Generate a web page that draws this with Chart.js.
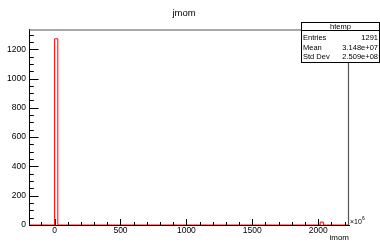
<!DOCTYPE html>
<html>
<head>
<meta charset="utf-8">
<script src="https://cdn.jsdelivr.net/npm/chart.js@4"></script>
<style>
html, body { margin: 0; padding: 0; background: #fff; }
canvas { display: block; }
</style>
</head>
<body>
<canvas id="grafico" width="380" height="242"></canvas>
<script>
// histograma htemp de ROOT: 100 bins, casi todo en dos bins
const tituloHist = 'jmom';
const tituloEjeX = 'imom';
const xMin = -194.3;
const xMax = 2234;
const nBins = 100;
const binsLlenos = [8, 91];
const cuentas = [1271, 20];
const ticksX = [0, 500, 1000, 1500, 2000];
const ticksY = [0, 200, 400, 600, 800, 1000, 1200];
const statsNombres = ['Entries', 'Mean', 'Std Dev'];
const statsValores = ['1291', '3.148e+07', '2.509e+08'];

const anchoBin = (xMax - xMin) / nBins;
const contenido = new Array(nBins).fill(0);
binsLlenos.forEach((b, i) => { contenido[b] = cuentas[i]; });
const puntos = contenido.map((c, i) => ({ x: xMin + i * anchoBin, y: c }));
puntos.push({ x: xMax, y: contenido[nBins - 1] });
const yMax = Math.max(...cuentas) * 1.05;

const fuente = '"Liberation Sans", Arial, sans-serif';

const decoracionRoot = {
    id: 'decoracionRoot',
    afterDatasetsDraw(chart) {
        const ctx = chart.ctx;
        const a = chart.chartArea;
        const sx = chart.scales.x, sy = chart.scales.y;
        ctx.save();
        // marco arriba y derecha
        ctx.strokeStyle = '#555';
        ctx.lineWidth = 1.2;
        ctx.beginPath();
        ctx.moveTo(a.left, a.top + 0.5);
        ctx.lineTo(a.right - 0.5, a.top + 0.5);
        ctx.lineTo(a.right - 0.5, a.bottom);
        ctx.stroke();

        // ticks hacia adentro
        ctx.strokeStyle = '#000';
        ctx.lineWidth = 1;
        ctx.beginPath();
        const pasoX = (ticksX[1] - ticksX[0]) / 5;
        for (let v = Math.ceil(xMin / pasoX) * pasoX; v <= xMax; v += pasoX) {
            const px = Math.round(sx.getPixelForValue(v)) + 0.5;
            const largo = ticksX.includes(v) ? 6 : 3;
            ctx.moveTo(px, a.bottom);
            ctx.lineTo(px, a.bottom - largo);
        }
        const pasoY = (ticksY[1] - ticksY[0]) / 4;
        for (let v = 0; v <= yMax; v += pasoY) {
            const py = Math.round(sy.getPixelForValue(v)) + 0.5;
            const largo = ticksY.includes(v) ? 9.6 : 4.8;
            ctx.moveTo(a.left, py);
            ctx.lineTo(a.left + largo, py);
        }
        ctx.stroke();

        // titulo
        ctx.fillStyle = '#000';
        ctx.font = '9.5px ' + fuente;
        ctx.textAlign = 'center';
        ctx.textBaseline = 'middle';
        ctx.fillText(tituloHist, 184, 13);

        // titulo eje x y exponente
        ctx.font = '8px ' + fuente;
        ctx.textAlign = 'right';
        ctx.fillText(tituloEjeX, a.right, 238);
        ctx.textAlign = 'left';
        ctx.font = '7px ' + fuente;
        ctx.fillText('\u00d710', a.right + 1, 222);
        ctx.font = '5px ' + fuente;
        ctx.fillText('6', a.right + 13, 219);

        // caja de estadisticas
        const bx = 301.5, by = 22.5, bw = 78, bh = 40;
        ctx.fillStyle = '#fff';
        ctx.fillRect(bx, by, bw, bh);
        ctx.strokeStyle = '#000';
        ctx.strokeRect(bx, by, bw, bh);
        ctx.beginPath();
        ctx.moveTo(bx, 30.5);
        ctx.lineTo(bx + bw, 30.5);
        ctx.stroke();
        ctx.fillStyle = '#000';
        ctx.font = '7.5px ' + fuente;
        ctx.textAlign = 'center';
        ctx.fillText('htemp', bx + bw / 2, 26.7);
        const filas = [37.5, 47.5, 57];
        statsNombres.forEach((n, i) => {
            ctx.textAlign = 'left';
            ctx.fillText(n, bx + 1.5, filas[i]);
            ctx.textAlign = 'right';
            ctx.fillText(statsValores[i], bx + bw - 1.5, filas[i]);
        });
        ctx.restore();
    }
};

const ctx = document.getElementById('grafico').getContext('2d');
new Chart(ctx, {
    type: 'line',
    data: {
        datasets: [{
            label: 'htemp',
            data: puntos,
            stepped: 'before',
            borderColor: '#ff0000',
            borderWidth: 1,
            pointRadius: 0,
            fill: false
        }]
    },
    options: {
        responsive: false,
        animation: false,
        devicePixelRatio: 1,
        layout: { padding: { left: 0, right: 31, top: 29.5, bottom: 0 } },
        plugins: { legend: { display: false }, tooltip: { enabled: false } },
        scales: {
            x: {
                type: 'linear',
                min: xMin,
                max: xMax,
                afterBuildTicks: s => { s.ticks = ticksX.map(v => ({ value: v })); },
                afterFit: s => { s.height = 17; },
                grid: { display: false, drawTicks: false },
                border: { display: true, color: '#000', width: 1 },
                ticks: { padding: 1, maxRotation: 0, color: '#000', font: { family: fuente, size: 8.5 }, callback: v => String(v) }
            },
            y: {
                min: 0,
                max: yMax,
                afterBuildTicks: s => { s.ticks = ticksY.map(v => ({ value: v })); },
                afterFit: s => { s.width = 29; },
                grid: { display: false, drawTicks: false },
                border: { display: true, color: '#000', width: 1 },
                ticks: { padding: 3, color: '#000', font: { family: fuente, size: 8.5 }, callback: v => String(v) }
            }
        }
    },
    plugins: [decoracionRoot]
});
</script>
</body>
</html>
